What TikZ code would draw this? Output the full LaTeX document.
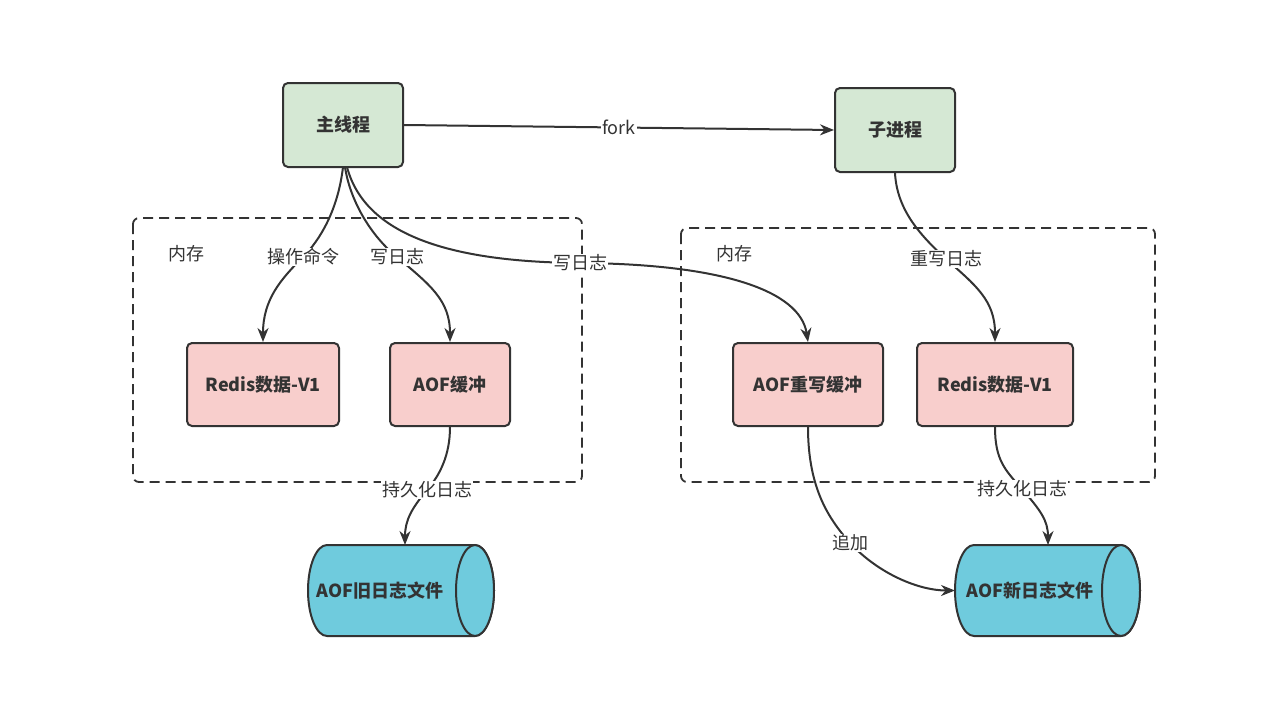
\documentclass[tikz,border=0pt]{standalone}
\usepackage{fontspec}
\setmainfont{Noto Sans CJK SC}
\usetikzlibrary{arrows.meta}
\definecolor{ink}{HTML}{333333}
\definecolor{gfill}{HTML}{D5E8D4}
\definecolor{pfill}{HTML}{F8CECC}
\definecolor{cfill}{HTML}{6FCBDD}
\tikzset{
  box/.style={draw=ink, line width=2pt, rounded corners=5pt, text=ink, font=\fontsize{18}{21}\selectfont\bfseries},
  gbox/.style={box, fill=gfill, minimum width=120pt, minimum height=84pt},
  pbox/.style={box, fill=pfill, minimum height=83pt},
  cont/.style={draw=ink, line width=1.8pt, dash pattern=on 10pt off 6pt, rounded corners=6pt},
  cylbody/.style={draw=ink, line width=2pt, fill=cfill},
  arr/.style={draw=ink, line width=2pt, -{Stealth[length=14pt,width=11pt]}},
  lbl/.style={fill=white, text=ink, inner sep=1pt, font=\fontsize{18}{21}\selectfont},
  plain/.style={text=ink, font=\fontsize{18}{21}\selectfont},
  ctext/.style={text=ink, font=\fontsize{18}{21}\selectfont\bfseries}
}
\newcommand{\mycyl}[3]{% left-cap center x, right-cap center x, center y
  \draw[cylbody] (#1,#3-45.5) -- (#2,#3-45.5)
    arc[start angle=-90,end angle=90,x radius=19,y radius=45.5]
    -- (#1,#3+45.5)
    arc[start angle=90,end angle=270,x radius=19,y radius=45.5] -- cycle;
  \draw[cylbody] (#2,#3) ellipse[x radius=19,y radius=45.5];
}
\begin{document}
\begin{tikzpicture}[x=1pt,y=-1pt]
\useasboundingbox (0,0) rectangle (1280,723);
% containers
\draw[cont] (133,218) rectangle (582,482);
\draw[cont] (681,228) rectangle (1155,482);
\node[plain] (mem1) at (186,254) {内存};
\node[plain] (mem2) at (734,254) {内存};
% boxes
\node[gbox] (zhu) at (343,125) {主线程};
\node[gbox] (zi) at (895,130) {子进程};
\node[pbox, minimum width=152pt] (r1) at (263,384.5) {Redis数据-V1};
\node[pbox, minimum width=120pt] (aofb) at (450,384.5) {AOF缓冲};
\node[pbox, minimum width=150pt] (aofrw) at (808,384.5) {AOF重写缓冲};
\node[pbox, minimum width=156pt] (r2) at (995,384.5) {Redis数据-V1};
% cylinders
\mycyl{327}{475}{590.5}
\node[ctext] (oldt) at (380,590.5) {AOF旧日志文件};
\mycyl{974}{1121}{590.5}
\node[ctext] (newt) at (1030,590.5) {AOF新日志文件};
\coordinate (oldin) at (405,545);
\coordinate (newin) at (1048,545);
\coordinate (newleft) at (955,590.5);
% connectors
\draw[arr] (zhu.east) -- node[lbl]{fork} (zi.west);
\draw[arr] (343,167) .. controls (338,210) and (320,240) .. (303,257) node[lbl]{操作命令}
  .. controls (280,280) and (263,300) .. (r1.north);
\draw[arr] (345,167) .. controls (350,200) and (370,235) .. (397,257) node[lbl]{写日志}
  .. controls (430,285) and (450,300) .. (aofb.north);
\draw[arr] (347,167) .. controls (365,235) and (450,262) .. (580,263) node[lbl]{写日志}
  .. controls (720,264) and (800,290) .. (aofrw.north);
\draw[arr] (zi.south) .. controls (897,210) and (920,235) .. (946,259) node[lbl]{重写日志}
  .. controls (975,285) and (995,300) .. (r2.north);
\draw[arr] (aofb.south) .. controls (450,455) and (440,475) .. (427,490) node[lbl]{持久化日志}
  .. controls (412,508) and (405,520) .. (oldin);
\draw[arr] (aofrw.south) .. controls (808,490) and (830,520) .. (850,543) node[lbl]{追加}
  .. controls (880,575) and (920,590.5) .. (newleft);
\draw[arr] (r2.south) .. controls (995,460) and (1005,470) .. (1022,489) node[lbl]{持久化日志}
  .. controls (1040,510) and (1048,520) .. (newin);
\end{tikzpicture}
\end{document}
